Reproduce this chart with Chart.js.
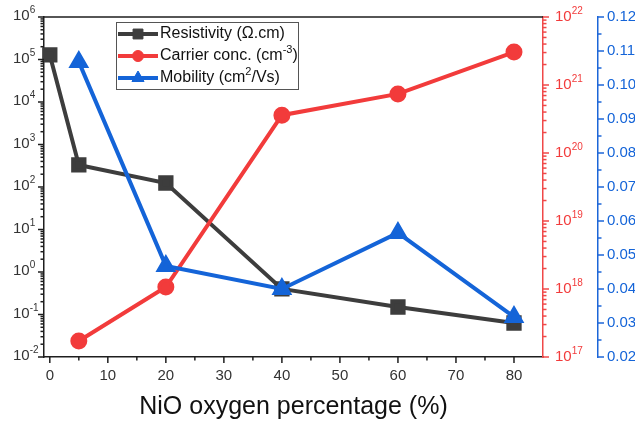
<!DOCTYPE html>
<html>
<head>
<meta charset="utf-8">
<script src="https://cdn.jsdelivr.net/npm/chart.js@4.4.1/dist/chart.umd.min.js"></script>
<style>
  body { margin: 0; background: #fff; }
</style>
</head>
<body>
<canvas id="nioChart" width="635" height="421"></canvas>
<script>
// values
const oxygen = [0, 5, 20, 40, 60, 80];
const resistivity = [1.28e5, 330, 124, 0.40, 0.15, 0.063];
const oxygenCarrier = [5, 20, 40, 60, 80];
const carrierConc = [1.72e17, 1.07e18, 3.6e20, 7.4e20, 3.05e21];
const oxygenMobility = [5, 20, 40, 60, 80];
const mobility = [0.1068, 0.0468, 0.0400, 0.0565, 0.0318];

// tick labels
const xTicks = [0, 10, 20, 30, 40, 50, 60, 70, 80];
const resExponents = ['-2', '-1', '0', '1', '2', '3', '4', '5', '6'];
const concExponents = ['17', '18', '19', '20', '21', '22'];
const mobTicks = ['0.02', '0.03', '0.04', '0.05', '0.06', '0.07', '0.08', '0.09', '0.10', '0.11', '0.12'];

const legendText = [
    [['Resistivity (\u03A9.cm)', 0]],
    [['Carrier conc. (cm', 0], ['-3', 1], [')', 0]],
    [['Mobility (cm', 0], ['2', 1], ['/Vs)', 0]]
];
const xTitle = 'NiO oxygen percentage (%)';

const FAM = '"Liberation Sans", Arial, sans-serif';
const blk = '#3d3d3d', red = '#f23b3b', blue = '#1464d8';
const axisBlk = '#1e1e1e', axisRed = '#f04848', axisBlue = '#1c66d8';

function seg(ctx, x1, y1, x2, y2) {
    ctx.beginPath();
    ctx.moveTo(x1, y1);
    ctx.lineTo(x2, y2);
    ctx.stroke();
}

// text with superscript pieces: parts = [[text, isSup], ...]
function richText(ctx, parts, x, y, size, supSize, align) {
    const fonts = parts.map(p => (p[1] ? supSize : size) + 'px ' + FAM);
    let w = 0;
    parts.forEach((p, i) => { ctx.font = fonts[i]; w += ctx.measureText(p[0]).width; });
    let cx = align === 'right' ? x - w : align === 'center' ? x - w / 2 : x;
    ctx.textAlign = 'left';
    ctx.textBaseline = 'middle';
    parts.forEach((p, i) => {
        ctx.font = fonts[i];
        ctx.fillText(p[0], cx, p[1] ? y - size * 0.38 : y);
        cx += ctx.measureText(p[0]).width;
    });
}

function logTicks(ctx, scale, lo, hi, xAxis, dir) {
    for (let e = lo; e <= hi; e++) {
        for (let k = 1; k <= 9; k++) {
            if (e === hi && k > 1) break;
            const py = scale.getPixelForValue(k * Math.pow(10, e));
            seg(ctx, xAxis, py, xAxis + dir * (k === 1 ? 6 : 3.5), py);
        }
    }
}

const axisPlugin = {
    id: 'axisPlugin',
    afterDraw(chart) {
        const ctx = chart.ctx, s = chart.scales, a = chart.chartArea;
        ctx.save();
        ctx.lineWidth = 1.5;

        // top frame
        ctx.strokeStyle = axisBlk;
        seg(ctx, a.left, a.top, a.right, a.top);

        // x axis ticks + labels
        for (let v = 0; v <= 80; v += 5) {
            const px = s.x.getPixelForValue(v);
            seg(ctx, px, a.bottom, px, a.bottom + (v % 10 ? 3.5 : 6));
        }
        ctx.fillStyle = '#333';
        xTicks.forEach(v => {
            richText(ctx, [[String(v), 0]], s.x.getPixelForValue(v), a.bottom + 19, 15, 10, 'center');
        });
        ctx.fillStyle = '#111';
        richText(ctx, [[xTitle, 0]], (a.left + a.right) / 2, 407, 25, 16, 'center');

        // left log axis
        logTicks(ctx, s.y, -2, 6, a.left, -1);
        ctx.fillStyle = '#333';
        resExponents.forEach(e => {
            const py = s.y.getPixelForValue(Math.pow(10, +e));
            richText(ctx, [['10', 0], [e, 1]], 13, py - 1, 15, 10, 'left');
        });

        // red log axis
        const rx = s.yC.left;
        ctx.strokeStyle = axisRed;
        logTicks(ctx, s.yC, 17, 22, rx, 1);
        ctx.fillStyle = red;
        concExponents.forEach(e => {
            const py = s.yC.getPixelForValue(Math.pow(10, +e));
            richText(ctx, [['10', 0], [e, 1]], rx + 12, py, 15, 10, 'left');
        });

        // blue linear axis
        const bx = s.yM.left;
        ctx.strokeStyle = axisBlue;
        for (let i = 0; i <= 20; i++) {
            const py = s.yM.getPixelForValue(0.02 + i * 0.005);
            seg(ctx, bx, py, bx + (i % 2 ? 3.5 : 6), py);
        }
        ctx.fillStyle = blue;
        mobTicks.forEach(t => {
            richText(ctx, [[t, 0]], bx + 9, s.yM.getPixelForValue(+t), 15, 10, 'left');
        });

        // legend
        const lx = 116, ly = 22, lw = 182, lh = 67;
        ctx.fillStyle = '#fff';
        ctx.fillRect(lx, ly, lw, lh);
        ctx.strokeStyle = '#555';
        ctx.lineWidth = 1;
        ctx.strokeRect(lx + 0.5, ly + 0.5, lw, lh);
        const rows = [34, 56, 78];
        chart.data.datasets.forEach((ds, i) => {
            const y = rows[i];
            ctx.strokeStyle = ds.borderColor;
            ctx.fillStyle = ds.borderColor;
            ctx.lineWidth = 4;
            seg(ctx, lx + 2, y, lx + 42, y);
            ctx.lineWidth = 1;
            Chart.helpers.drawPoint(ctx, {
                pointStyle: ds.pointStyle,
                radius: ds.legendRadius,
                rotation: 0,
                borderWidth: 1
            }, lx + 22, y);
            ctx.fillStyle = '#111';
            richText(ctx, legendText[i], lx + 44, y, 16, 11, 'left');
        });
        ctx.restore();
    }
};

const hidden = { display: false };

new Chart(document.getElementById('nioChart'), {
    type: 'line',
    data: {
        datasets: [
            {
                label: 'Resistivity',
                data: oxygen.map((x, i) => ({ x: x, y: resistivity[i] })),
                yAxisID: 'y',
                borderColor: blk,
                backgroundColor: blk,
                pointBackgroundColor: blk,
                pointBorderColor: blk,
                borderWidth: 4,
                pointStyle: 'rect',
                pointRadius: 8,
                legendRadius: 7,
                clip: false,
                order: 2
            },
            {
                label: 'Carrier conc.',
                data: oxygenCarrier.map((x, i) => ({ x: x, y: carrierConc[i] })),
                yAxisID: 'yC',
                borderColor: red,
                backgroundColor: red,
                pointBackgroundColor: red,
                pointBorderColor: red,
                borderWidth: 4,
                pointStyle: 'circle',
                pointRadius: 6.5,
                legendRadius: 5.5,
                clip: false,
                order: 1
            },
            {
                label: 'Mobility',
                data: oxygenMobility.map((x, i) => ({ x: x, y: mobility[i] })),
                yAxisID: 'yM',
                borderColor: blue,
                backgroundColor: blue,
                pointBackgroundColor: blue,
                pointBorderColor: blue,
                borderWidth: 4,
                pointStyle: 'triangle',
                pointRadius: 8,
                legendRadius: 7,
                clip: false,
                order: 0
            }
        ]
    },
    options: {
        responsive: false,
        animation: false,
        layout: { padding: { top: 17, left: 0, right: 0, bottom: 0 }, autoPadding: false },
        plugins: { legend: hidden, tooltip: { enabled: false } },
        scales: {
            x: {
                type: 'linear', min: -1, max: 85,
                afterFit: sc => { sc.height = 64; },
                ticks: hidden, grid: hidden,
                border: { display: true, color: axisBlk, width: 1.5 }
            },
            y: {
                type: 'logarithmic', position: 'left', min: 1e-2, max: 1e6,
                afterFit: sc => { sc.width = 44; },
                ticks: hidden, grid: hidden,
                border: { display: true, color: axisBlk, width: 1.5 }
            },
            yC: {
                type: 'logarithmic', position: 'right', weight: 1, min: 1e17, max: 1e22,
                afterFit: sc => { sc.width = 55; },
                ticks: hidden, grid: hidden,
                border: { display: true, color: axisRed, width: 1.5 }
            },
            yM: {
                type: 'linear', position: 'right', weight: 2, min: 0.02, max: 0.12,
                afterFit: sc => { sc.width = 37; },
                ticks: hidden, grid: hidden,
                border: { display: true, color: axisBlue, width: 1.5 }
            }
        }
    },
    plugins: [axisPlugin]
});
</script>
</body>
</html>
